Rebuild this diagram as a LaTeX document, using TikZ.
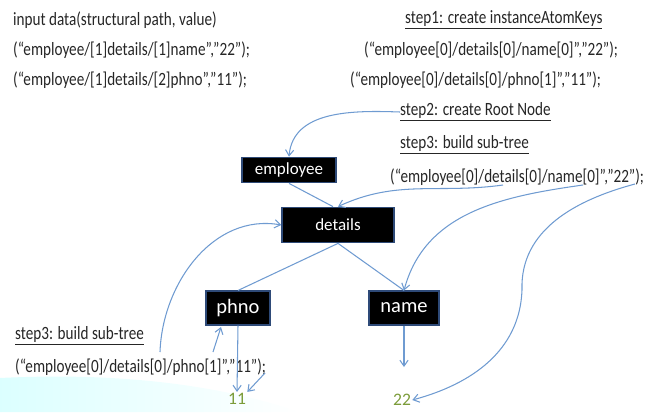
\documentclass[tikz,border=0pt]{standalone}
\usepackage{fontspec}
\setmainfont{Carlito}
\usepackage{tikz}
\usetikzlibrary{arrows.meta}
\definecolor{linkblue}{HTML}{6F9BD1}
\definecolor{boxedge}{HTML}{2E4A78}
\definecolor{valgreen}{HTML}{7C9C3A}
\newcommand{\Step}[1]{\underline{#1}}

\begin{document}
\begin{tikzpicture}[>={Straight Barb[length=5pt,width=7pt]}, x=0.03cm, y=-0.03cm,
    txt/.style={anchor=west, inner sep=0pt, font=\fontsize{16}{19}\selectfont, xscale=0.81, text=black!85},
    keybox/.style={draw=boxedge, line width=1.5pt, fill=black, text=white, inner sep=0pt},
    link/.style={draw=linkblue, line width=0.9pt}]

    \useasboundingbox (0,0) rectangle (661,412);
    \shade[left color=cyan!14, right color=white] (0,378) .. controls (120,372) and (220,385) .. (300,412) -- (0,412) -- cycle;

    \draw(13,20) node[txt] (inp) {input data(structural path, value)};
    \draw(13,50) node[txt] (in1) {(“employee/[1]details/[1]name”,”22”);};
    \draw(13,80) node[txt] (in2) {(“employee/[1]details/[2]phno”,”11”);};

    \draw(405,20) node[txt] (s1) {\Step{step1: create instanceAtomKeys}};
    \draw(364,50) node[txt] (k1) {(“employee[0]/details[0]/name[0]”,”22”);};
    \draw(350,80) node[txt] (k2) {(“employee[0]/details[0]/phno[1]”,”11”);};
    \draw(400,112) node[txt] (s2) {\Step{step2: create Root Node}};
    \draw(400,145) node[txt] (s3a) {\Step{step3: build\ sub-tree}};
    \draw(390,177) node[txt] (p1) {(“employee[0]/details[0]/name[0]”,”22”);};
    \draw(15,336) node[txt] (s3b) {\Step{step3: build\ sub-tree}};
    \draw(15,367) node[txt] (p2) {(“employee[0]/details[0]/phno[1]”,”11”);};

    \draw(289,170) node[keybox, minimum width=2.8cm, minimum height=0.75cm, font=\fontsize{14.5}{16}\selectfont] (emp) {employee};
    \draw(338,225) node[keybox, minimum width=3.35cm, minimum height=1.05cm, font=\fontsize{14.5}{16}\selectfont] (det) {details};
    \draw(238,308) node[keybox, minimum width=1.9cm, minimum height=1cm, font=\fontsize{17.5}{20}\selectfont] (phno) {phno};
    \draw(404,308) node[keybox, minimum width=2.1cm, minimum height=1cm, font=\fontsize{17.5}{20}\selectfont] (name) {name};

    \draw(237,399) node[inner sep=1pt, text=valgreen, font=\fontsize{15}{17}\selectfont] (v11) {11};
    \draw(402,400) node[inner sep=1pt, text=valgreen, font=\fontsize{15}{17}\selectfont] (v22) {22};

    \coordinate (cA) at (503,185);
    \coordinate (cB) at (583,185);
    \coordinate (cC) at (635,184);
    \coordinate (cC2) at (522,290);
    \coordinate (cD) at (160,352);
    \coordinate (cE) at (213,352);
    \coordinate (cF) at (265,373);
    \coordinate (pIn) at (221,327);
    \coordinate (nEnd) at (404,367);

    \path[link] (emp.south) -- ([xshift=-0.15cm]det.north);
    \path[link] (det.south) -- (phno.north);
    \path[link] (det.south) -- (name.north);
    \path[link, ->] (s2.west) to[out=178, in=85] (emp.north);
    \path[link, ->] (cA) to[out=188, in=25] (det.north);
    \path[link, ->] (cB) to[out=188, in=75] (name.north);
    \path[link, ->] (cC) to[out=195, in=92] (cC2) to[out=-92, in=15] (v22.east);
    \path[link, ->] (cD) to[out=88, in=170] (det.west);
    \path[link, ->] (cE) -- (pIn);
    \path[link, ->] (phno.south) -- (v11.north);
    \path[link, ->] (cF) -- (v11.north east);
    \path[link, ->] (name.south) -- (nEnd);

    \end{tikzpicture}
\end{document}
